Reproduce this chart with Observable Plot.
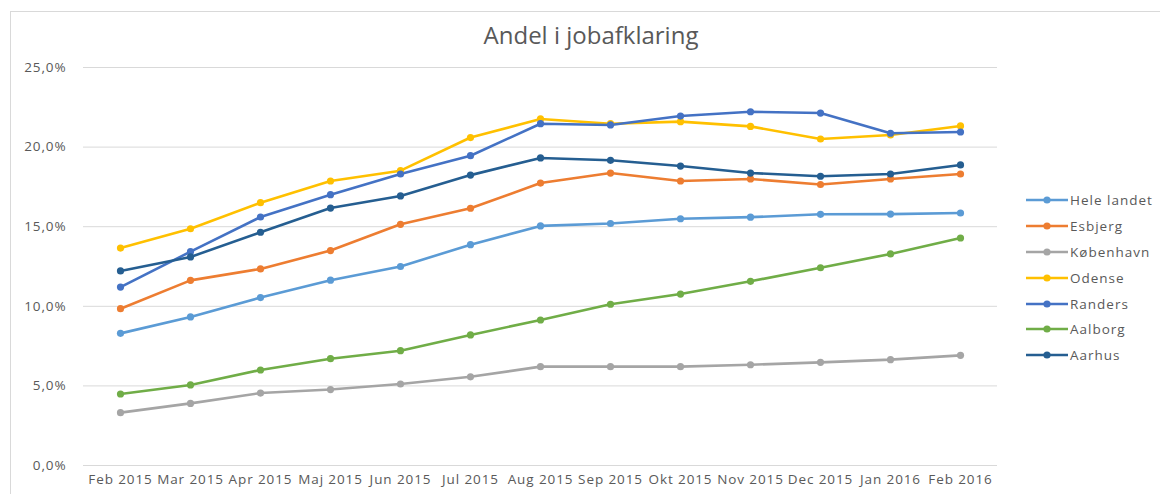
<!DOCTYPE html>
<html>
<head>
<meta charset="utf-8">
<script src="https://cdn.jsdelivr.net/npm/d3@7"></script>
<script src="https://cdn.jsdelivr.net/npm/@observablehq/plot@0.6"></script>
<style>
  html, body { margin: 0; padding: 0; background: #fff; }
  #wrap { position: relative; width: 1160px; height: 494px; overflow: hidden; background: #fff; }
  #frame { position: absolute; left: 10px; top: 11px; width: 1170px; height: 500px; border: 1px solid #d9d9d9; box-sizing: border-box; }
  #title { position: absolute; left: 0; width: 1182px; top: 18px; text-align: center; font-family: "Open Sans", sans-serif; font-size: 24px; color: #595959; }
  #chart { position: absolute; left: 0; top: 0; }
  #chart svg text { letter-spacing: 0.9px; }
  #legend { position: absolute; left: 1026px; top: 187px; font-family: "Open Sans", sans-serif; font-size: 13.5px; color: #595959; letter-spacing: 1px; }
  .item { display: flex; align-items: center; height: 25.9px; }
  .item svg { margin-right: 2px; }
</style>
</head>
<body>
<div id="wrap">
  <div id="frame"></div>
  <div id="title">Andel i jobafklaring</div>
  <div id="chart"></div>
  <div id="legend"></div>
</div>
<script>
const months = ["Feb 2015","Mar 2015","Apr 2015","Maj 2015","Jun 2015","Jul 2015","Aug 2015","Sep 2015","Okt 2015","Nov 2015","Dec 2015","Jan 2016","Feb 2016"];
const seriesNames = ["Hele landet","Esbjerg","København","Odense","Randers","Aalborg","Aarhus"];
const seriesColors = ["#5B9BD5","#ED7D31","#A5A5A5","#FFC000","#4472C4","#70AD47","#255E91"];
const heleLandet = [8.3, 9.33, 10.55, 11.64, 12.5, 13.87, 15.05, 15.2, 15.5, 15.6, 15.78, 15.79, 15.86];
const esbjerg    = [9.85, 11.63, 12.35, 13.5, 15.15, 16.16, 17.74, 18.37, 17.87, 18.0, 17.65, 18.0, 18.31];
const kobenhavn  = [3.32, 3.9, 4.55, 4.77, 5.12, 5.57, 6.21, 6.21, 6.21, 6.33, 6.48, 6.65, 6.92];
const odense     = [13.66, 14.87, 16.51, 17.87, 18.52, 20.6, 21.77, 21.47, 21.6, 21.3, 20.51, 20.76, 21.33];
const randers    = [11.21, 13.43, 15.61, 17.01, 18.31, 19.46, 21.47, 21.39, 21.95, 22.22, 22.14, 20.87, 20.95];
const aalborg    = [4.49, 5.06, 6.0, 6.71, 7.21, 8.2, 9.14, 10.13, 10.77, 11.57, 12.42, 13.29, 14.29];
const aarhus     = [12.22, 13.1, 14.65, 16.17, 16.93, 18.24, 19.32, 19.17, 18.81, 18.37, 18.17, 18.31, 18.88];
const yTicks = [0, 0.05, 0.10, 0.15, 0.20, 0.25];

const seriesValues = [heleLandet, esbjerg, kobenhavn, odense, randers, aalborg, aarhus];
const data = [];
seriesNames.forEach((name, i) => {
  seriesValues[i].forEach((v, j) => data.push({series: name, month: months[j], value: v / 100}));
});

const fmt = d => (d * 100).toFixed(1).replace(".", ",") + "%";

const chart = Plot.plot({
  width: 1010,
  height: 494,
  marginTop: 67,
  marginBottom: 29,
  marginLeft: 83,
  marginRight: 13,
  style: {fontFamily: "'Open Sans', sans-serif", fontSize: "13.5px", color: "#595959", background: "transparent"},
  x: {type: "point", domain: months, padding: 0.5, label: null},
  y: {domain: [0, 0.25], label: null},
  color: {domain: seriesNames, range: seriesColors},
  marks: [
    Plot.gridY(yTicks, {stroke: "#d9d9d9", strokeOpacity: 1, strokeWidth: 1}),
    Plot.axisY(yTicks, {tickSize: 0, tickPadding: 17, tickFormat: fmt, label: null, fontSize: 13.5}),
    Plot.axisX({tickSize: 0, tickPadding: 9, label: null, fontSize: 13.5}),
    Plot.line(data, {x: "month", y: "value", z: "series", stroke: "series", strokeWidth: 2.6}),
    Plot.dot(data, {x: "month", y: "value", fill: "series", r: 3.6})
  ]
});
document.getElementById("chart").appendChild(chart);

const legend = document.getElementById("legend");
seriesNames.forEach((name, i) => {
  const c = seriesColors[i];
  const div = document.createElement("div");
  div.className = "item";
  div.innerHTML = `<svg width="42" height="10"><line x1="0" y1="5" x2="42" y2="5" stroke="${c}" stroke-width="2.6"/><circle cx="21" cy="5" r="3.6" fill="${c}"/></svg><span>${name}</span>`;
  legend.appendChild(div);
});
</script>
</body>
</html>
